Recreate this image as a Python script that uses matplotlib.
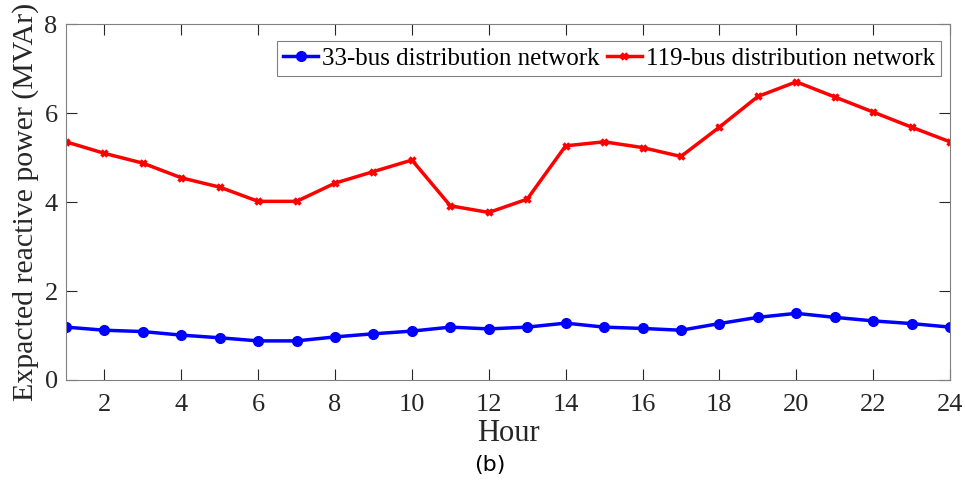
import matplotlib.pyplot as plt

hours = list(range(1, 25))
bus33 = [1.19, 1.12, 1.09, 1.01, 0.95, 0.88, 0.88, 0.97, 1.04, 1.10, 1.19, 1.15,
         1.19, 1.28, 1.19, 1.16, 1.12, 1.27, 1.41, 1.50, 1.41, 1.33, 1.27, 1.19]
bus119 = [5.36, 5.10, 4.88, 4.55, 4.34, 4.02, 4.02, 4.43, 4.69, 4.95, 3.92, 3.77,
          4.07, 5.27, 5.36, 5.23, 5.03, 5.69, 6.38, 6.71, 6.37, 6.03, 5.69, 5.36]
xticks = [2, 4, 6, 8, 10, 12, 14, 16, 18, 20, 22, 24]
yticks = [0, 2, 4, 6, 8]

plt.rcParams['font.family'] = ['Liberation Serif', 'DejaVu Serif']

fig = plt.figure(figsize=(9.65, 4.9), dpi=100)
ax = fig.add_axes([66 / 965, 1 - 380 / 490, (950 - 66) / 965, (380 - 24.5) / 490])

ax.plot(hours, bus33, color='#0000ff', lw=2.5, marker='o', ms=7,
        label='33-bus distribution network')
ax.plot(hours, bus119, color='#ff0000', lw=2.5, marker='x', ms=5, mew=2.5,
        label='119-bus distribution network')

ax.set_xlim(1, 24)
ax.set_ylim(0, 8)
ax.set_xticks(xticks)
ax.set_yticks(yticks)
ax.tick_params(direction='in', top=True, right=True, length=8, width=0.8,
               labelsize=19, colors='#262626')
ax.tick_params(axis='x', pad=10)
ax.tick_params(axis='y', pad=6)
for s in ax.spines.values():
    s.set_color('#808080')
    s.set_linewidth(0.8)

ax.set_xlabel('Hour', fontsize=22, color='#262626', labelpad=2)
ax.set_ylabel('Expacted reactive power (MVAr)', fontsize=21.5, color='#262626', labelpad=4)

leg = ax.legend(loc='upper right', bbox_to_anchor=(0.9898, 0.9536), ncol=2,
                fontsize=18, fancybox=False, edgecolor='#808080',
                handlelength=1.4, handletextpad=0.15, columnspacing=0.3,
                borderpad=0.25, borderaxespad=0, framealpha=1)
leg.get_frame().set_linewidth(0.8)

fig.text(490 / 965, 1 - 465 / 490, '(b)', fontsize=16, family='DejaVu Sans',
         ha='center', va='center')

fig.savefig('out.png', dpi=100)
